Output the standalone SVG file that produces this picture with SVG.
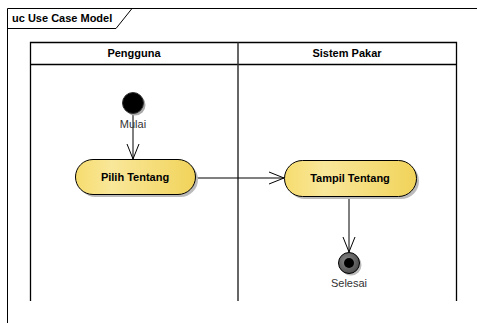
<svg xmlns="http://www.w3.org/2000/svg" width="477" height="323" viewBox="0 0 477 323">
<defs>
<linearGradient id="act" x1="0" y1="0" x2="1" y2="0">
<stop offset="0" stop-color="#f6dc6e"/>
<stop offset="0.3" stop-color="#f9e79a"/>
<stop offset="1" stop-color="#f1d35a"/>
</linearGradient>
<radialGradient id="endg" cx="0.4" cy="0.4" r="0.6">
<stop offset="0" stop-color="#8a8a8a"/>
<stop offset="1" stop-color="#505050"/>
</radialGradient>
<marker id="open" markerWidth="16" markerHeight="14" refX="15" refY="7" orient="auto" markerUnits="userSpaceOnUse">
<path d="M0,1 L15,7 L0,13" fill="none" stroke="#000" stroke-width="1"/>
</marker>
</defs>
<style>
.t{font-family:"Liberation Sans",Arial,sans-serif;font-size:11px;fill:#000}
.b{font-weight:bold}
.lbl{font-family:"Liberation Sans",Arial,sans-serif;font-size:11px;fill:#333}
.lane{fill:none;stroke:#000;stroke-width:1.3}
.act{fill:url(#act);stroke:#000;stroke-width:1}
.sh{fill:#bbb}
.edge{fill:none;stroke:#000;stroke-width:1}
</style>
<rect width="477" height="323" fill="#fff"/>
<g id="frame">
<path d="M7.5,323 L7.5,8.5 L477,8.5" fill="none" stroke="#000" stroke-width="1"/>
<path d="M7.5,28.5 L116,28.5 L132,8.5" fill="none" stroke="#000" stroke-width="1"/>
<text class="t b" x="12" y="22">uc Use Case Model</text>
</g>
<g id="lanes">
<path class="lane" d="M30.5,301 L30.5,42.5 L456.5,42.5 L456.5,301"/>
<line class="lane" x1="30.5" y1="64.5" x2="456.5" y2="64.5"/>
<line x1="238" y1="42.5" x2="238" y2="301" stroke="#333" stroke-width="1.5"/>
<text class="t b" x="134" y="57" text-anchor="middle">Pengguna</text>
<text class="t b" x="347" y="57" text-anchor="middle">Sistem Pakar</text>
</g>
<g id="connectors">
<line class="edge" x1="133" y1="113" x2="133" y2="159" marker-end="url(#open)"/>
<line class="edge" x1="196" y1="178" x2="284" y2="178" marker-end="url(#open)"/>
<line class="edge" x1="349" y1="197" x2="349" y2="252" marker-end="url(#open)"/>
</g>
<g id="start">
<circle cx="135" cy="105" r="10.5" fill="#aaa"/>
<circle cx="133" cy="103" r="10.5" fill="#000" stroke="#333" stroke-width="1"/>
<text class="lbl" x="133" y="128" text-anchor="middle">Mulai</text>
</g>
<g id="pilih">
<rect class="sh" x="78" y="162" width="120" height="35" rx="17.5"/>
<rect class="act" x="75.5" y="159.5" width="120" height="35" rx="17.5"/>
<text class="t b" x="135" y="181" text-anchor="middle">Pilih Tentang</text>
</g>
<g id="tampil">
<rect class="sh" x="287" y="163" width="132" height="36" rx="18"/>
<rect class="act" x="284.5" y="160.5" width="132" height="36" rx="18"/>
<text class="t b" x="350" y="182" text-anchor="middle">Tampil Tentang</text>
</g>
<g id="end">
<circle cx="351" cy="265" r="10.5" fill="#bbb"/>
<circle cx="349" cy="263" r="10.5" fill="url(#endg)" stroke="#000" stroke-width="1"/>
<circle cx="349" cy="263" r="5" fill="#000"/>
<text class="lbl" x="349" y="287" text-anchor="middle">Selesai</text>
</g>
</svg>
